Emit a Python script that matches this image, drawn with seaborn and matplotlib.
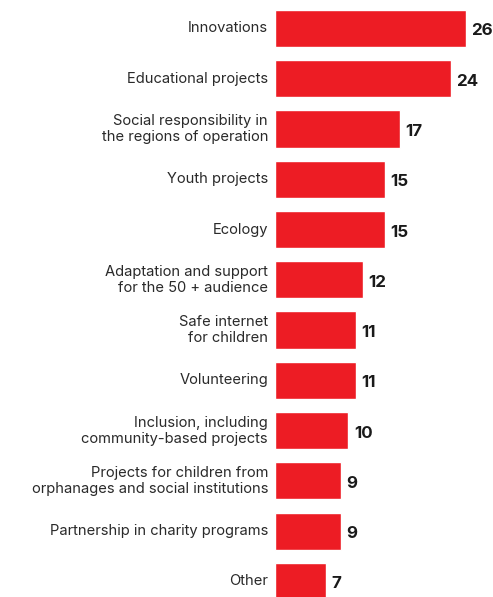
import matplotlib
matplotlib.use("Agg")
import matplotlib.pyplot as plt
import seaborn as sns
import pandas as pd

categories = [
    "Innovations",
    "Educational projects",
    "Social responsibility in\nthe regions of operation",
    "Youth projects",
    "Ecology",
    "Adaptation and support\nfor the 50 + audience",
    "Safe internet\nfor children",
    "Volunteering",
    "Inclusion, including\ncommunity-based projects",
    "Projects for children from\norphanages and social institutions",
    "Partnership in charity programs",
    "Other",
]
values = [26, 24, 17, 15, 15, 12, 11, 11, 10, 9, 9, 7]

df = pd.DataFrame({"category": categories, "value": values})

sns.set_style("white")
plt.rcParams["font.family"] = ["Inter", "DejaVu Sans"]

fig = plt.figure(figsize=(4.93, 5.97), dpi=100)
ax = fig.add_axes([275 / 493, -0.016, 220 / 493, 1.0104])

sns.barplot(data=df, x="value", y="category", orient="h", color="#ED1C24",
            width=0.74, saturation=1, ax=ax)

ax.set_xlim(0, 30)
ax.set_ylim(len(categories) - 0.5, -0.5)
ax.axis("off")

for i, (cat, val) in enumerate(zip(categories, values)):
    ax.text(-0.95, i, cat, ha="right", va="center", fontsize=10.6,
            color="#2a2a2a", linespacing=1.2, clip_on=False)
    ax.text(val + 0.75, i + 0.05, str(val), ha="left", va="center", fontsize=12.2,
            fontweight="bold", color="#1a1a1a", clip_on=False)

fig.savefig("out.png", dpi=100)
